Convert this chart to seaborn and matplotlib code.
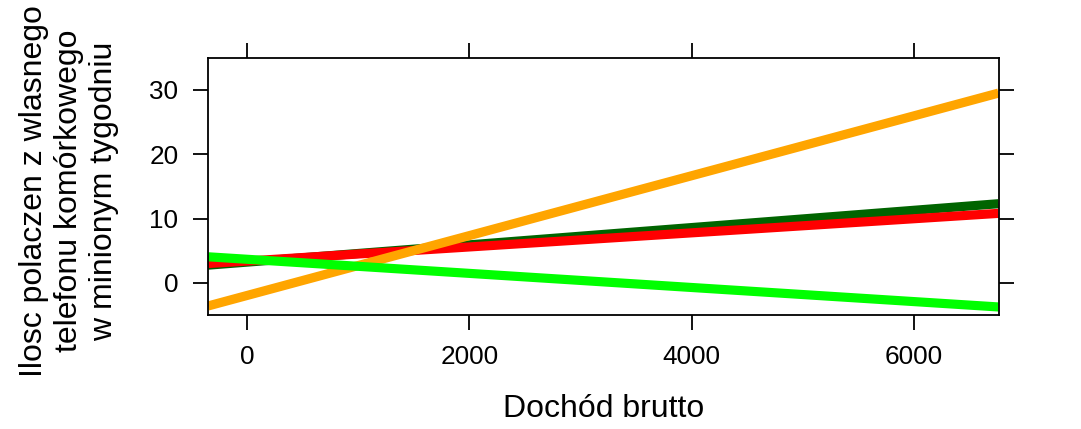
import pandas as pd
import matplotlib
matplotlib.use("Agg")
import matplotlib.pyplot as plt
import seaborn as sns

# fitted lines, read at the two edges of the panel
income = [-350, 6760]
dark_green = [2.75, 12.3]
red = [3.0, 10.8]
orange = [-3.6, 29.5]
lime = [4.05, -3.75]

series_names = ["darkgreen", "red", "orange", "lime"]
series_values = [dark_green, red, orange, lime]
series_colors = ["#006400", "#FF0000", "#FFA500", "#00FF00"]

x_ticks = [0, 2000, 4000, 6000]
y_ticks = [0, 10, 20, 30]


def build_frame(names, values, x):
    rows = []
    for name, ys in zip(names, values):
        for xv, yv in zip(x, ys):
            rows.append({"income": xv, "calls": yv, "group": name})
    return pd.DataFrame(rows)


sns.set_style("ticks")
plt.rcParams["font.family"] = ["Liberation Sans", "DejaVu Sans"]
plt.rcParams["text.color"] = "black"
plt.rcParams["axes.labelcolor"] = "black"

data = build_frame(series_names, series_values, income)

fig = plt.figure(figsize=(10.81, 4.29), dpi=100)
ax = fig.add_axes([208 / 1081, 1 - 315 / 429, (998.5 - 208) / 1081, (315 - 57.7) / 429])

sns.lineplot(data=data, x="income", y="calls", hue="group",
             palette=dict(zip(series_names, series_colors)),
             hue_order=series_names, linewidth=6.6, legend=False, ax=ax)
for line in ax.get_lines():
    line.set_solid_capstyle("butt")

ax.set_xlim(-350, 6760)
ax.set_ylim(-5, 35)
ax.set_xticks(x_ticks)
ax.set_yticks(y_ticks)
ax.tick_params(axis="both", which="both", direction="out", length=10.8, width=1.3,
               labelsize=18.8, pad=10.5, top=True, right=True,
               colors="black", labelcolor="black")
for s in ax.spines.values():
    s.set_linewidth(1.3)
    s.set_color("black")

ax.set_xlabel("Dochód brutto", fontsize=23, labelpad=18, color="black")
ax.set_ylabel("")
fig.text(69 / 1081, 1 - 191 / 429,
         "Ilosc polaczen z wlasnego\ntelefonu komórkowego\nw minionym tygodniu",
         rotation=90, ha="center", va="center", multialignment="center",
         fontsize=23, linespacing=1.22, color="black")

fig.savefig("out.png", dpi=100)
